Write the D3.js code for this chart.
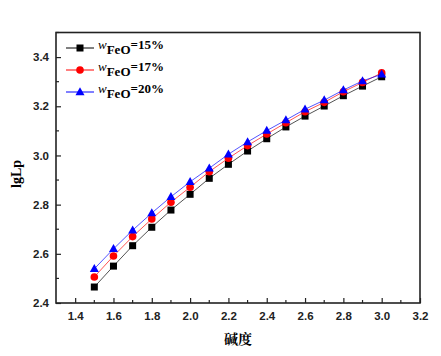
<!DOCTYPE html>
<html><head><meta charset="utf-8">
<script src="https://cdn.jsdelivr.net/npm/d3@7"></script>
<style>body{margin:0;background:#fff}</style>
</head><body>
<svg id="c" width="441" height="356"></svg>
<script>
const basicity = [1.5,1.6,1.7,1.8,1.9,2.0,2.1,2.2,2.3,2.4,2.5,2.6,2.7,2.8,2.9,3.0];
const feo15 = [2.465,2.550,2.633,2.708,2.778,2.842,2.907,2.964,3.018,3.068,3.116,3.160,3.201,3.243,3.282,3.320];
const feo17 = [2.506,2.591,2.670,2.742,2.810,2.871,2.934,2.989,3.040,3.087,3.133,3.178,3.216,3.259,3.297,3.336];
const feo20 = [2.539,2.620,2.696,2.766,2.832,2.893,2.948,3.005,3.055,3.101,3.144,3.188,3.225,3.266,3.303,3.330];
const seriesNames = ["15%","17%","20%"];
const xTicks = [1.4,1.6,1.8,2.0,2.2,2.4,2.6,2.8,3.0,3.2];
const yTicks = [2.4,2.6,2.8,3.0,3.2,3.4];

const svg = d3.select("#c");
const L=56, R=420, T=32.5, B=303;
const x = d3.scaleLinear().domain([1.3,3.2]).range([L,R]);
const y = d3.scaleLinear().domain([2.4,3.5]).range([B,T]);

const series = [
  {name:seriesNames[0], vals:feo15, color:"#000000", shape:"square"},
  {name:seriesNames[1], vals:feo17, color:"#ff0000", shape:"circle"},
  {name:seriesNames[2], vals:feo20, color:"#0000ff", shape:"triangle"}
];

function marker(g, shape, color, cx, cy){
  if(shape==="square") g.append("rect").attr("x",cx-3.5).attr("y",cy-3.5).attr("width",7).attr("height",7).attr("fill",color);
  else if(shape==="circle") g.append("circle").attr("cx",cx).attr("cy",cy).attr("r",3.8).attr("fill",color);
  else g.append("path").attr("d",`M${cx},${cy-4.8}L${cx+4.5},${cy+3.2}L${cx-4.5},${cy+3.2}Z`).attr("fill",color);
}

const fmt = d3.format(".1f");
const xMinor = d3.range(14,33).map(d=>d/10).filter(v=>!xTicks.some(t=>Math.abs(t-v)<1e-6));
const yMinor = d3.range(25,36,2).map(d=>d/10);

const xAxis = svg.append("g").attr("transform",`translate(0,${B})`)
  .call(d3.axisBottom(x).tickValues(xTicks).tickFormat(fmt).tickSizeInner(-5).tickSizeOuter(0).tickPadding(9));
xAxis.append("g").selectAll("line").data(xMinor).join("line")
  .attr("x1",d=>x(d)).attr("x2",d=>x(d)).attr("y1",0).attr("y2",-3).attr("stroke","#222").attr("stroke-width",1.2);
const yAxis = svg.append("g").attr("transform",`translate(${L},0)`)
  .call(d3.axisLeft(y).tickValues(yTicks).tickFormat(fmt).tickSizeInner(-5).tickSizeOuter(0).tickPadding(7));
yAxis.append("g").selectAll("line").data(yMinor).join("line")
  .attr("y1",d=>y(d)).attr("y2",d=>y(d)).attr("x1",0).attr("x2",3).attr("stroke","#222").attr("stroke-width",1.2);
[xAxis,yAxis].forEach(a=>{
  a.select(".domain").remove();
  a.selectAll(".tick line").attr("stroke","#222").attr("stroke-width",1.2);
  a.selectAll("text").attr("font-family","Liberation Sans, Arial, sans-serif").attr("font-weight","bold").attr("font-size",11.5).attr("fill","#222");
});

svg.append("rect").attr("x",L).attr("y",T).attr("width",R-L).attr("height",B-T)
  .attr("fill","none").attr("stroke","#222").attr("stroke-width",1.6);

const line = d3.line().x((d,i)=>x(basicity[i])).y(d=>y(d));
series.forEach(s=>{
  svg.append("path").datum(s.vals).attr("d",line).attr("fill","none").attr("stroke",s.color).attr("stroke-width",0.8).attr("opacity",0.85);
});
series.forEach(s=>{
  const g = svg.append("g");
  s.vals.forEach((v,i)=>marker(g,s.shape,s.color,x(basicity[i]),y(v)));
});

const legY=[48,70,92];
series.forEach((s,i)=>{
  const g = svg.append("g");
  g.append("line").attr("x1",66).attr("x2",94).attr("y1",legY[i]).attr("y2",legY[i]).attr("stroke",s.color).attr("stroke-width",1);
  marker(g,s.shape,s.color,80,legY[i]);
  const t = g.append("text").attr("x",98).attr("y",legY[i]+1).attr("font-family","Liberation Serif, Times New Roman, serif").attr("font-size",13).attr("fill","#000");
  t.append("tspan").attr("font-style","italic").text("w");
  t.append("tspan").attr("font-weight","bold").attr("dy",5).attr("font-size",13).text("FeO");
  t.append("tspan").attr("font-weight","bold").attr("dy",-5).text("="+s.name);
});

svg.append("text").attr("transform",`translate(21,174) rotate(-90)`).attr("text-anchor","middle")
  .attr("font-family","Liberation Serif, Times New Roman, serif").attr("font-weight","bold").attr("font-size",14).text("lgLp");
svg.append("text").attr("x",238).attr("y",344).attr("text-anchor","middle")
  .attr("font-family","Noto Serif CJK SC, Noto Sans CJK SC, serif").attr("font-weight","bold").attr("font-size",14).text("碱度");
</script>
</body></html>
